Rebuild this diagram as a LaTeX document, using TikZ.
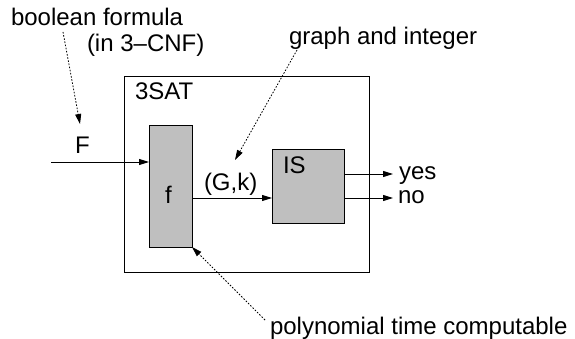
\documentclass[tikz,border=0pt]{standalone}
\usepackage{fontspec}
\setmainfont{Liberation Sans}
\usetikzlibrary{arrows.meta}
\begin{document}
\begin{tikzpicture}[x=1pt,y=-1pt,
  box/.style={draw, line width=0.9pt, inner sep=0, outer sep=0, anchor=north west},
  graybox/.style={box, fill=black!25},
  lbl/.style={inner sep=0, outer sep=0, anchor=base west, font=\fontsize{24}{28}\selectfont},
  arr/.style={line width=0.9pt, -{Triangle[length=10pt,width=6pt]}},
  darr/.style={line width=0.8pt, dash pattern=on 1.6pt off 1.6pt, -{Triangle[length=10pt,width=6pt]}}]
\useasboundingbox (0,0) rectangle (575,339);
% boxes
\node[box, minimum width=245pt, minimum height=196pt] (outer) at (124,76) {};
\node[graybox, minimum width=43pt, minimum height=122pt] (f) at (149,125) {};
\node[graybox, minimum width=72pt, minimum height=74pt] (IS) at (272,149) {};
% labels
\node[lbl] (bf) at (11,26) {boolean formula};
\node[lbl] (cnf) at (87,52) {(in 3–CNF)};
\node[lbl] (gi) at (289,45) {graph and integer};
\node[lbl] (sat) at (135,100) {3SAT};
\node[lbl] (F) at (75,154) {F};
\node[lbl] (fl) at (165,203) {f};
\node[lbl] (gk) at (204,190) {(G,k)};
\node[lbl] (isl) at (283,174) {IS};
\node[lbl] (yes) at (399,179) {yes};
\node[lbl] (no) at (398,203) {no};
\node[lbl] (poly) at (270,334) {polynomial time computable};
% coordinates
\coordinate (Fs) at (51,162);
\coordinate (r1) at (0,198);
\coordinate (ry) at (393,174);
\coordinate (rn) at (393,198);
\coordinate (bfs) at (63,32);
\coordinate (bft) at (80,124);
\coordinate (gis) at (297,50);
\coordinate (git) at (235,160);
\coordinate (pts) at (265,320);
% connectors
\draw[arr] (Fs) -- (Fs -| f.west);
\draw[arr] (f.east |- r1) -- (IS.west |- r1);
\draw[arr] (IS.east |- ry) -- (ry);
\draw[arr] (IS.east |- rn) -- (rn);
\draw[darr] (bfs) -- (bft);
\draw[darr] (gis) -- (git);
\draw[darr] (pts) -- (f.south east);
\end{tikzpicture}
\end{document}
